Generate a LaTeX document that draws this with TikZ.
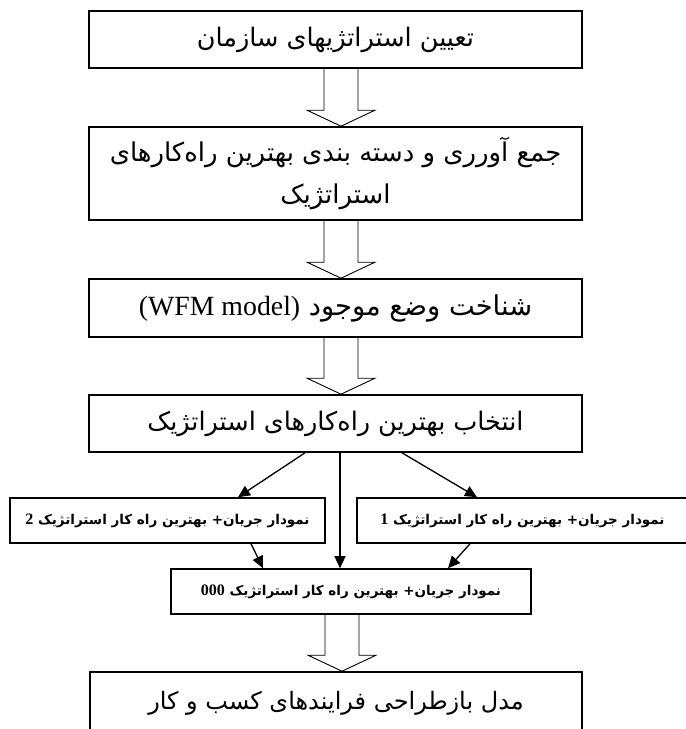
\documentclass[tikz,border=0pt]{standalone}
\usepackage{fontspec}
\usetikzlibrary{arrows.meta,calc}
\TeXXeTstate=1
\newfontfamily\fa[Script=Arabic]{DejaVu Sans}
\newfontfamily\tnr{Liberation Serif}
\newcommand\blockarrow[3]{%
  \draw[blk] (#3-17,0 |- #1.south) -- ($(#3-17,0 |- #2.north)+(0,-16)$)
    -- ($(#3-34,0 |- #2.north)+(0,-16)$) -- (#3,0 |- #2.north)
    -- ($(#3+34,0 |- #2.north)+(0,-16)$) -- ($(#3+17,0 |- #2.north)+(0,-16)$)
    -- (#3+17,0 |- #1.south);}
\begin{document}
\begin{tikzpicture}[x=1pt,y=-1pt,
  box/.style={draw,line width=1.6pt,fill=white,inner sep=0pt,align=center,
    font=\fa\fontsize{25.5}{42}\selectfont},
  sbox/.style={draw,line width=1.6pt,fill=white,inner sep=0pt,align=center,
    font=\fa\bfseries\fontsize{13.5}{16}\selectfont},
  blk/.style={line width=0.9pt,line join=miter},
  con/.style={line width=1.3pt,-{Triangle[length=12pt,width=11pt]}}]
\useasboundingbox (0,0) rectangle (686,729);
\node[box,minimum width=493pt,minimum height=57pt] (b1) at (335.5,39.5)
  {\beginR تعیین استراتژیهای سازمان\endR};
\node[box,minimum width=493pt,minimum height=93pt,font=\fa\fontsize{25.9}{42}\selectfont] (b2) at (335.5,173.5)
  {\beginR جمع آورری و دسته بندی بهترین راه‌کارهای\endR\\\beginR استراتژیک\endR};
\node[box,minimum width=493pt,minimum height=58pt,font=\fa\fontsize{27.3}{30}\selectfont] (b3) at (335.5,308)
  {\beginR شناخت وضع موجود {\tnr\fontsize{27.8}{30}\selectfont\beginL(WFM model)\endL}\endR};
\node[box,minimum width=493pt,minimum height=57pt] (b4) at (335.5,423.5)
  {\beginR انتخاب بهترین راه‌کارهای استراتژیک\endR};
\node[sbox,minimum width=315pt,minimum height=45pt] (b5) at (167.5,520.5)
  {\beginR نمودار جریان\kern0pt+ بهترین راه کار استراتژیک {\tnr\bfseries\fontsize{16}{16}\selectfont 2}\endR};
\node[sbox,minimum width=331pt,minimum height=45pt] (b6) at (522.5,520.5)
  {\beginR نمودار جریان\kern0pt+ بهترین راه کار استراتژیک {\tnr\bfseries\fontsize{16}{16}\selectfont 1}\endR};
\node[sbox,minimum width=360pt,minimum height=45pt] (b7) at (351,591.5)
  {\beginR نمودار جریان\kern0pt+ بهترین راه کار استراتژیک {\tnr\bfseries\fontsize{16}{16}\selectfont 000}\endR};
\node[box,minimum width=492pt,minimum height=62pt,font=\fa\fontsize{24}{30}\selectfont] (b8) at (336,703)
  {\beginR مدل بازطراحی فرایندهای کسب و کار\endR};
\blockarrow{b1}{b2}{341}
\blockarrow{b2}{b3}{341}
\blockarrow{b3}{b4}{341}
\blockarrow{b7}{b8}{342}
\draw[con] (305,0 |- b4.south) -- (238,0 |- b5.north);
\draw[con] (340,0 |- b4.south) -- (340,0 |- b7.north);
\draw[con] (402,0 |- b4.south) -- (477,0 |- b6.north);
\draw[con] (251,0 |- b5.south) -- (263,0 |- b7.north);
\draw[con] (470,0 |- b6.south) -- (448,0 |- b7.north);
\end{tikzpicture}
\end{document}
